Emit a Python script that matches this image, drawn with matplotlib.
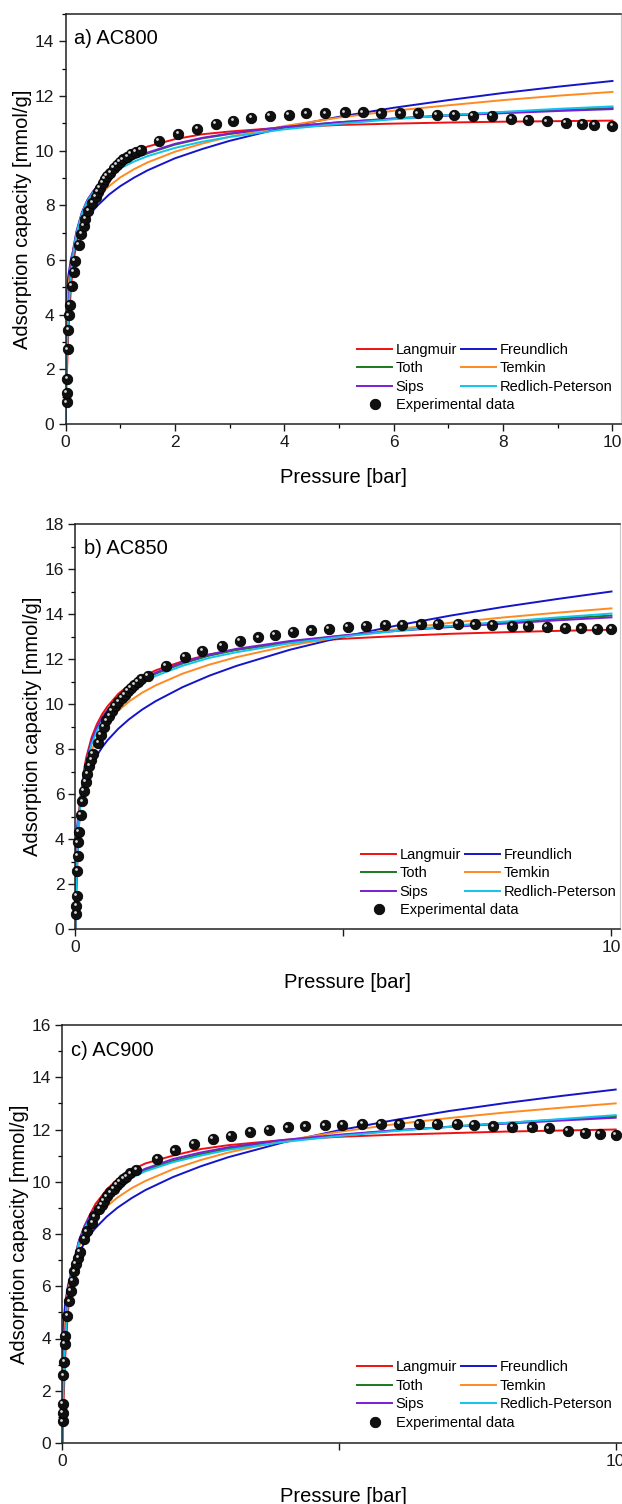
import matplotlib
matplotlib.use('Agg')
import matplotlib.pyplot as plt
from matplotlib.ticker import MultipleLocator, FixedLocator, FixedFormatter
from matplotlib.transforms import offset_copy

plt.rcParams['font.family'] = ['Liberation Sans', 'DejaVu Sans']

# 共通の圧力グリッド (モデル曲線の読み取り点)
pressure = [0, 0.01, 0.02, 0.05, 0.1, 0.15, 0.2, 0.3, 0.4, 0.5, 0.6, 0.8, 1.0,
            1.25, 1.5, 2, 2.5, 3, 4, 5, 6, 7, 8, 9, 10]

# a) AC800
lang_a = [0, 0.8, 1.5, 3.3, 5.0, 6.0, 6.6, 7.45, 8.0, 8.4, 8.75, 9.28, 9.65,
          9.95, 10.15, 10.42, 10.6, 10.7, 10.85, 10.94, 10.99, 11.03, 11.06, 11.08, 11.1]
freu_a = [0, 4.18, 4.67, 5.40, 6.04, 6.43, 6.74, 7.19, 7.52, 7.80, 8.02, 8.40, 8.70,
          9.01, 9.28, 9.72, 10.06, 10.36, 10.85, 11.24, 11.57, 11.85, 12.11, 12.34, 12.55]
toth_a = [0, 1.5, 2.5, 4.2, 5.65, 6.45, 7.0, 7.72, 8.18, 8.48, 8.73, 9.12, 9.42,
          9.7, 9.9, 10.22, 10.45, 10.61, 10.86, 11.04, 11.18, 11.3, 11.4, 11.48, 11.56]
temk_a = [0, 2.76, 3.70, 4.94, 5.89, 6.44, 6.83, 7.38, 7.77, 8.08, 8.32, 8.71, 9.02,
          9.32, 9.57, 9.96, 10.26, 10.51, 10.90, 11.21, 11.46, 11.66, 11.85, 12.01, 12.15]
sips_a = [0, 1.6, 2.6, 4.3, 5.7, 6.5, 7.05, 7.75, 8.2, 8.5, 8.75, 9.15, 9.45,
          9.72, 9.93, 10.25, 10.47, 10.63, 10.87, 11.04, 11.17, 11.28, 11.37, 11.45, 11.52]
rp_a = [0, 1.3, 2.3, 4.0, 5.5, 6.35, 6.95, 7.7, 8.15, 8.45, 8.7, 9.08, 9.35,
        9.6, 9.8, 10.1, 10.33, 10.5, 10.78, 10.98, 11.15, 11.3, 11.42, 11.53, 11.62]
exp_p_a = [0.02, 0.03, 0.035, 0.04, 0.05, 0.065, 0.08, 0.11, 0.15, 0.17,
           0.24, 0.29, 0.33, 0.36, 0.42, 0.49, 0.55, 0.59, 0.63, 0.68,
           0.72, 0.76, 0.82, 0.88, 0.94, 0.99, 1.05, 1.13, 1.2, 1.29,
           1.38, 1.71, 2.06, 2.41, 2.75, 3.07, 3.40, 3.74, 4.08, 4.40,
           4.75, 5.11, 5.44, 5.77, 6.12, 6.44, 6.79, 7.11, 7.45, 7.79,
           8.15, 8.45, 8.80, 9.15, 9.45, 9.67, 10.0]
exp_q_a = [0.79, 1.15, 1.64, 2.73, 3.43, 3.97, 4.36, 5.04, 5.55, 5.97,
           6.56, 6.95, 7.25, 7.51, 7.80, 8.08, 8.32, 8.48, 8.65, 8.81,
           8.96, 9.09, 9.20, 9.36, 9.48, 9.59, 9.68, 9.78, 9.88, 9.96,
           10.02, 10.35, 10.61, 10.81, 10.97, 11.09, 11.19, 11.26, 11.32, 11.36,
           11.36, 11.40, 11.40, 11.36, 11.36, 11.36, 11.32, 11.30, 11.28, 11.26,
           11.15, 11.12, 11.07, 11.03, 10.98, 10.95, 10.90]

# b) AC850
lang_b = [0, 0.9, 1.8, 3.9, 5.9, 6.9, 7.6, 8.5, 9.1, 9.55, 9.9, 10.45, 10.85,
          11.2, 11.5, 11.9, 12.2, 12.42, 12.72, 12.9, 13.02, 13.12, 13.19, 13.25, 13.3]
freu_b = [0, 3.60, 4.15, 5.02, 5.79, 6.30, 6.69, 7.27, 7.71, 8.08, 8.39, 8.90, 9.32,
          9.76, 10.13, 10.75, 11.26, 11.69, 12.41, 12.99, 13.49, 13.93, 14.32, 14.67, 15.0]
toth_b = [0, 1.4, 2.4, 4.2, 5.85, 6.75, 7.4, 8.3, 8.9, 9.35, 9.7, 10.25, 10.65,
          11.05, 11.35, 11.8, 12.15, 12.4, 12.77, 13.04, 13.27, 13.46, 13.63, 13.79, 13.93]
temk_b = [0, 1.82, 3.06, 4.71, 5.96, 6.69, 7.21, 7.94, 8.46, 8.86, 9.19, 9.70, 10.11,
          10.51, 10.83, 11.35, 11.75, 12.08, 12.60, 13.0, 13.33, 13.61, 13.85, 14.06, 14.25]
sips_b = [0, 1.5, 2.5, 4.3, 5.9, 6.8, 7.45, 8.35, 8.95, 9.4, 9.75, 10.3, 10.7,
          11.1, 11.4, 11.85, 12.2, 12.45, 12.8, 13.05, 13.25, 13.42, 13.57, 13.72, 13.85]
rp_b = [0, 1.2, 2.2, 4.0, 5.7, 6.65, 7.3, 8.2, 8.8, 9.25, 9.6, 10.15, 10.55,
        10.95, 11.25, 11.7, 12.05, 12.3, 12.7, 13.0, 13.25, 13.47, 13.66, 13.85, 14.02]
exp_p_b = [0.02, 0.02, 0.025, 0.035, 0.04, 0.05, 0.07, 0.10, 0.13, 0.16,
           0.19, 0.22, 0.26, 0.30, 0.33, 0.43, 0.47, 0.53, 0.58, 0.63,
           0.68, 0.74, 0.80, 0.86, 0.92, 0.98, 1.04, 1.10, 1.16, 1.23,
           1.35, 1.69, 2.04, 2.37, 2.73, 3.07, 3.41, 3.72, 4.06, 4.40,
           4.73, 5.08, 5.42, 5.78, 6.10, 6.44, 6.76, 7.13, 7.45, 7.78,
           8.15, 8.44, 8.80, 9.14, 9.44, 9.73, 10.0]
exp_q_b = [0.67, 1.04, 1.48, 2.59, 3.26, 3.85, 4.30, 5.08, 5.67, 6.15,
           6.55, 6.90, 7.24, 7.53, 7.79, 8.27, 8.64, 9.00, 9.27, 9.48,
           9.70, 9.90, 10.09, 10.27, 10.41, 10.58, 10.71, 10.86, 10.99, 11.11,
           11.26, 11.70, 12.09, 12.36, 12.59, 12.80, 12.96, 13.08, 13.19, 13.27,
           13.35, 13.42, 13.47, 13.51, 13.51, 13.54, 13.57, 13.57, 13.54, 13.51,
           13.48, 13.48, 13.44, 13.39, 13.36, 13.33, 13.33]

# c) AC900
lang_c = [0, 0.7, 1.4, 3.2, 5.0, 6.0, 6.75, 7.7, 8.3, 8.75, 9.15, 9.7, 10.1,
          10.45, 10.7, 11.0, 11.25, 11.4, 11.6, 11.72, 11.8, 11.86, 11.92, 11.96, 12.0]
freu_c = [0, 4.0, 4.51, 5.31, 6.0, 6.44, 6.78, 7.28, 7.66, 7.97, 8.23, 8.66, 9.01,
          9.37, 9.68, 10.18, 10.59, 10.94, 11.51, 11.97, 12.36, 12.71, 13.01, 13.28, 13.53]
toth_c = [0, 1.35, 2.35, 4.05, 5.45, 6.25, 6.85, 7.7, 8.25, 8.65, 8.95, 9.45, 9.85,
          10.2, 10.45, 10.8, 11.06, 11.27, 11.56, 11.78, 11.96, 12.11, 12.25, 12.38, 12.5]
temk_c = [0, 2.19, 3.27, 4.71, 5.79, 6.43, 6.88, 7.51, 7.96, 8.31, 8.60, 9.05, 9.40,
          9.75, 10.03, 10.48, 10.83, 11.12, 11.57, 11.91, 12.20, 12.44, 12.65, 12.83, 13.0]
sips_c = [0, 1.5, 2.5, 4.2, 5.5, 6.3, 6.9, 7.75, 8.3, 8.7, 9.0, 9.5, 9.9,
          10.25, 10.5, 10.87, 11.12, 11.32, 11.6, 11.8, 11.97, 12.1, 12.22, 12.34, 12.45]
rp_c = [0, 1.2, 2.2, 3.9, 5.35, 6.2, 6.8, 7.65, 8.2, 8.6, 8.92, 9.4, 9.8,
        10.15, 10.4, 10.75, 11.0, 11.22, 11.52, 11.75, 11.94, 12.1, 12.25, 12.4, 12.55]
exp_p_c = [0.01, 0.01, 0.01, 0.02, 0.035, 0.04, 0.05, 0.09, 0.13, 0.16,
           0.19, 0.22, 0.25, 0.29, 0.32, 0.40, 0.44, 0.54, 0.58, 0.67,
           0.71, 0.75, 0.81, 0.87, 0.93, 0.98, 1.04, 1.10, 1.16, 1.23,
           1.34, 1.72, 2.03, 2.38, 2.72, 3.04, 3.40, 3.73, 4.07, 4.39,
           4.75, 5.06, 5.42, 5.76, 6.09, 6.44, 6.77, 7.13, 7.44, 7.79,
           8.13, 8.48, 8.79, 9.14, 9.44, 9.71, 10.0]
exp_q_c = [0.83, 1.15, 1.50, 2.59, 3.11, 3.79, 4.11, 4.85, 5.42, 5.83,
           6.21, 6.57, 6.85, 7.10, 7.33, 7.82, 8.10, 8.44, 8.67, 8.95,
           9.11, 9.26, 9.44, 9.59, 9.74, 9.87, 9.99, 10.10, 10.20, 10.32,
           10.46, 10.87, 11.20, 11.44, 11.63, 11.76, 11.90, 12.00, 12.08, 12.12,
           12.16, 12.18, 12.22, 12.22, 12.22, 12.22, 12.22, 12.22, 12.17, 12.12,
           12.09, 12.08, 12.04, 11.95, 11.86, 11.82, 11.80]

model_names = ['Langmuir', 'Freundlich', 'Toth', 'Temkin', 'Sips', 'Redlich-Peterson']
model_colors = ['#f01010', '#1414c8', '#1c7a1c', '#ff8a20', '#7a1ed6', '#10c4ee']

W, H = 622, 1504

panels = [
    ('a) AC800', [lang_a, freu_a, toth_a, temk_a, sips_a, rp_a], exp_p_a, exp_q_a, 15,
     [0, 2, 4, 6, 8, 10], ['0', '2', '4', '6', '8', '10'], True),
    ('b) AC850', [lang_b, freu_b, toth_b, temk_b, sips_b, rp_b], exp_p_b, exp_q_b, 18,
     [0, 5, 10], ['0', '', '10'], False),
    ('c) AC900', [lang_c, freu_c, toth_c, temk_c, sips_c, rp_c], exp_p_c, exp_q_c, 16,
     [0, 5, 10], ['0', '', '10'], False),
]
# 軸の位置 (ピクセル: 左, 右, 上, 下)
axes_px = [(65.5, 620.7, 14, 424), (75.4, 619.5, 524, 929), (62.3, 624, 1025, 1443)]
# 凡例の位置 (ピクセル: ハンドル左端, 1行目中心, 4行目中心)
legend_px = [(357, 350, 405), (361, 855, 910), (357, 1367, 1423)]

fig = plt.figure(figsize=(W / 100, H / 100), dpi=100)

for (title, curves, ep, eq, ymax, xt, xtl, xminor), (l, r, t, b), (lx, ly1, ly4) in zip(
        panels, axes_px, legend_px):
    ax = fig.add_axes([l / W, 1 - b / H, (r - l) / W, (b - t) / H])
    lines = []
    for name, color, vals in zip(model_names, model_colors, curves):
        ln, = ax.plot(pressure, vals, color=color, lw=1.4, label=name, zorder=2)
        lines.append(ln)
    # 実験データ (黒いボール + ハイライト)
    pts, = ax.plot(ep, eq, 'o', ms=7.5, mfc='#101010', mec='#000000', mew=0.6,
                   label='Experimental data', zorder=3, clip_on=False)
    hl = offset_copy(ax.transData, fig=fig, x=-1.2, y=1.3, units='points')
    ax.plot(ep, eq, 'o', ms=2.0, mfc='#d8d8d8', mec='none', transform=hl,
            zorder=4, clip_on=False)

    ax.set_xlim(0, 10.15)
    ax.set_ylim(0, ymax)
    ax.xaxis.set_major_locator(FixedLocator(xt))
    ax.xaxis.set_major_formatter(FixedFormatter(xtl))
    if xminor:
        ax.xaxis.set_minor_locator(MultipleLocator(1))
    ax.yaxis.set_major_locator(MultipleLocator(2))
    ax.yaxis.set_minor_locator(MultipleLocator(1))
    ax.tick_params(which='major', direction='out', length=5, width=1.0,
                   labelsize=12.5, colors='#1a1a1a', pad=3)
    ax.tick_params(which='minor', direction='out', length=3, width=0.9)
    for s in ['left', 'bottom', 'top']:
        ax.spines[s].set_linewidth(1.1)
        ax.spines[s].set_color('#222222')
    ax.spines['right'].set_linewidth(0.8)
    ax.spines['right'].set_color('#c8c8c8')

    ax.set_xlabel('Pressure [bar]', fontsize=14.5, labelpad=13)
    ax.set_ylabel('Adsorption capacity [mmol/g]', fontsize=14.5, labelpad=2)
    ax.text(0.015, 0.94, title, transform=ax.transAxes, fontsize=14.5,
            ha='left', va='center')

    # Origin風の凡例: 2列のモデル + 下に実験データ
    order = [lines[0], lines[2], lines[4], lines[1], lines[3], lines[5]]
    kw = dict(frameon=False, fontsize=10.5, handlelength=2.4, handletextpad=0.25,
              columnspacing=0.25, labelspacing=0.3, borderaxespad=0, borderpad=0,
              loc='center left', bbox_transform=fig.transFigure)
    leg1 = ax.legend(handles=order, labels=[h.get_label() for h in order], ncol=2,
                     bbox_to_anchor=(lx / W, 1 - (ly1 + (ly4 - ly1) / 3) / H), **kw)
    ax.add_artist(leg1)
    ax.legend(handles=[pts], labels=['Experimental data'], numpoints=1,
              bbox_to_anchor=(lx / W, 1 - ly4 / H), **kw)

fig.savefig('out.png', dpi=100)
